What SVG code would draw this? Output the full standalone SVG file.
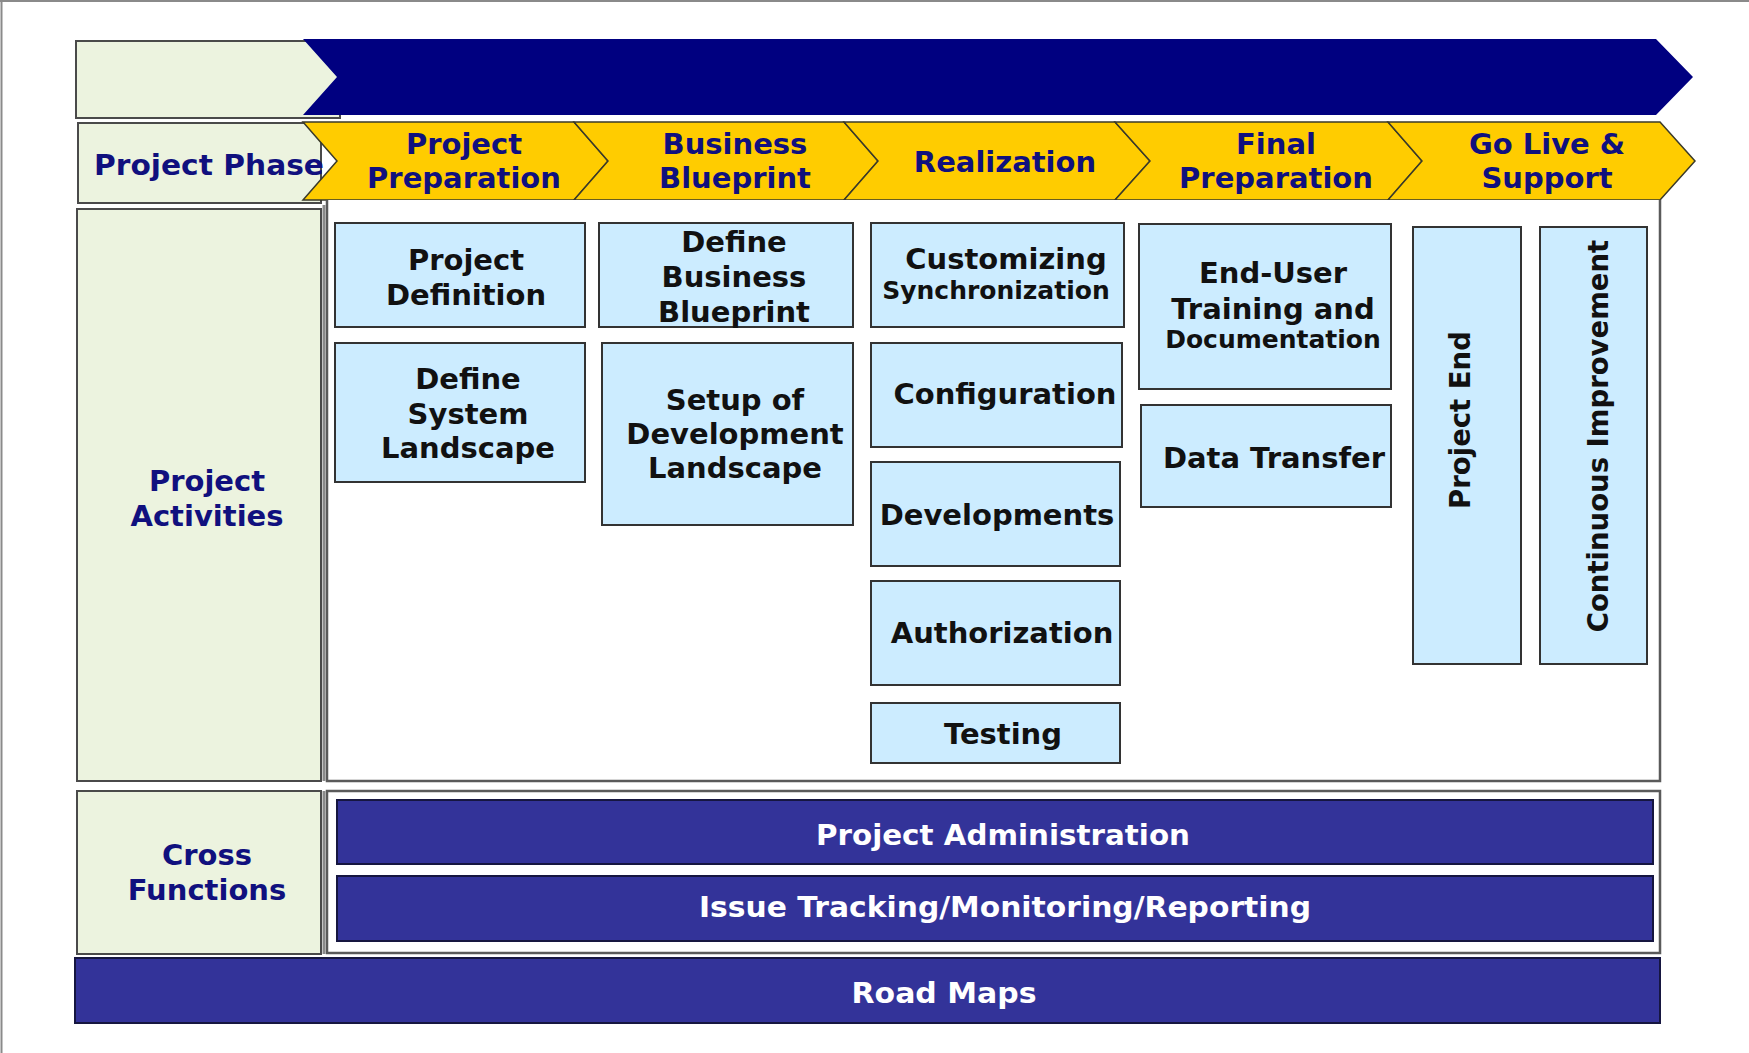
<svg xmlns="http://www.w3.org/2000/svg" width="1749" height="1053" viewBox="0 0 1749 1053">
<style>
  text { font-family: "DejaVu Sans", Verdana, "Liberation Sans", sans-serif; font-weight: bold; }
  .lbl { fill: #ECF3DF; stroke: #4a4a4a; stroke-width: 2; }
  .area { fill: #ffffff; stroke: #5a5a5a; stroke-width: 2.5; }
  .box { fill: #CCECFF; stroke: #333333; stroke-width: 2; }
  .chev { fill: #FFCC00; stroke: #3a3a2a; stroke-width: 1.5; }
  .bar { fill: #333399; stroke: #161640; stroke-width: 2; }
  .nt { fill: #10107e; font-size: 29px; text-anchor: middle; }
  .bt { fill: #111111; font-size: 29px; text-anchor: middle; }
  .st { fill: #111111; font-size: 25px; text-anchor: middle; }
  .vt { fill: #111111; font-size: 27.5px; text-anchor: middle; }
  .wt { fill: #ffffff; font-size: 29px; text-anchor: middle; }
</style>

<!-- page border -->
<g id="page-border">
  <line x1="0" y1="1" x2="1749" y2="1" stroke="#8a8a8a" stroke-width="2"/>
  <line x1="1.5" y1="0" x2="1.5" y2="1053" stroke="#8a8a8a" stroke-width="2"/>
</g>

<!-- top banner -->
<g id="banner">
  <rect class="lbl" x="76" y="41" width="264" height="77" stroke="#222" stroke-width="2.5"/>
  <polygon points="303,39 1656,39 1693,77 1656,115 303,115 337,77" fill="#000080"/>
</g>

<!-- Project Phase row -->
<g id="project-phase-label">
  <rect class="lbl" x="78" y="123" width="243" height="80"/>
  <text class="nt" x="209" y="175" textLength="230" lengthAdjust="spacingAndGlyphs">Project Phase</text>
</g>

<g id="phase-project-preparation">
  <polygon class="chev" points="303,122 574,122 608,161 574,200 303,200 337,161"/>
  <text class="nt" x="464" y="154">Project</text>
  <text class="nt" x="464" y="188">Preparation</text>
</g>
<g id="phase-business-blueprint">
  <polygon class="chev" points="574,122 844,122 878,161 844,200 574,200 608,161"/>
  <text class="nt" x="735" y="154">Business</text>
  <text class="nt" x="735" y="188">Blueprint</text>
</g>
<g id="phase-realization">
  <polygon class="chev" points="844,122 1115,122 1150,161 1115,200 844,200 878,161"/>
  <text class="nt" x="1005" y="172">Realization</text>
</g>
<g id="phase-final-preparation">
  <polygon class="chev" points="1115,122 1388,122 1422,161 1388,200 1115,200 1150,161"/>
  <text class="nt" x="1276" y="154">Final</text>
  <text class="nt" x="1276" y="188">Preparation</text>
</g>
<g id="phase-go-live">
  <polygon class="chev" points="1388,122 1660,122 1695,161 1660,200 1388,200 1422,161"/>
  <text class="nt" x="1547" y="154">Go Live &amp;</text>
  <text class="nt" x="1547" y="188">Support</text>
</g>

<!-- Project Activities -->
<g id="project-activities-label">
  <rect class="lbl" x="77" y="209" width="244" height="572"/>
  <text class="nt" x="207" y="491">Project</text>
  <text class="nt" x="207" y="526">Activities</text>
</g>
<g id="activities-area">
  <path class="area" d="M1660,200 L1660,781 L327,781 L327,200" fill="#fff"/>
  <line x1="324" y1="205" x2="324" y2="781" stroke="#8a8a8a" stroke-width="3"/>
</g>

<g id="project-definition">
  <rect class="box" x="335" y="223" width="250" height="104"/>
  <text class="bt" x="466" y="270">Project</text>
  <text class="bt" x="466" y="305">Definition</text>
</g>
<g id="define-system-landscape">
  <rect class="box" x="335" y="343" width="250" height="139"/>
  <text class="bt" x="468" y="389">Define</text>
  <text class="bt" x="468" y="424">System</text>
  <text class="bt" x="468" y="458">Landscape</text>
</g>
<g id="define-business-blueprint">
  <rect class="box" x="599" y="223" width="254" height="104"/>
  <text class="bt" x="734" y="252">Define</text>
  <text class="bt" x="734" y="287">Business</text>
  <text class="bt" x="734" y="322">Blueprint</text>
</g>
<g id="setup-development-landscape">
  <rect class="box" x="602" y="343" width="251" height="182"/>
  <text class="bt" x="735" y="410">Setup of</text>
  <text class="bt" x="735" y="444">Development</text>
  <text class="bt" x="735" y="478">Landscape</text>
</g>
<g id="customizing-synchronization">
  <rect class="box" x="871" y="223" width="253" height="104"/>
  <text class="bt" x="1006" y="269">Customizing</text>
  <text class="st" x="996" y="299">Synchronization</text>
</g>
<g id="configuration">
  <rect class="box" x="871" y="343" width="251" height="104"/>
  <text class="bt" x="1005" y="404">Configuration</text>
</g>
<g id="developments">
  <rect class="box" x="871" y="462" width="249" height="104"/>
  <text class="bt" x="997" y="525">Developments</text>
</g>
<g id="authorization">
  <rect class="box" x="871" y="581" width="249" height="104"/>
  <text class="bt" x="1002" y="643">Authorization</text>
</g>
<g id="testing">
  <rect class="box" x="871" y="703" width="249" height="60"/>
  <text class="bt" x="1003" y="744">Testing</text>
</g>
<g id="end-user-training">
  <rect class="box" x="1139" y="224" width="252" height="165"/>
  <text class="bt" x="1273" y="283">End-User</text>
  <text class="bt" x="1273" y="319">Training and</text>
  <text class="st" x="1273" y="348">Documentation</text>
</g>
<g id="data-transfer">
  <rect class="box" x="1141" y="405" width="250" height="102"/>
  <text class="bt" x="1274" y="468">Data Transfer</text>
</g>
<g id="project-end">
  <rect class="box" x="1413" y="227" width="108" height="437"/>
  <text class="vt" transform="translate(1470,420) rotate(-90)">Project End</text>
</g>
<g id="continuous-improvement">
  <rect class="box" x="1540" y="227" width="107" height="437"/>
  <text class="vt" transform="translate(1608,436) rotate(-90)">Continuous Improvement</text>
</g>

<!-- Cross Functions -->
<g id="cross-functions-label">
  <rect class="lbl" x="77" y="791" width="244" height="163"/>
  <text class="nt" x="207" y="865">Cross</text>
  <text class="nt" x="207" y="900">Functions</text>
</g>
<g id="cross-area">
  <rect class="area" x="327" y="791" width="1333" height="162"/>
  <line x1="324" y1="791" x2="324" y2="954" stroke="#8a8a8a" stroke-width="3"/>
</g>
<g id="project-administration">
  <rect class="bar" x="337" y="800" width="1316" height="64"/>
  <text class="wt" x="1003" y="845" textLength="374" lengthAdjust="spacingAndGlyphs">Project Administration</text>
</g>
<g id="issue-tracking">
  <rect class="bar" x="337" y="876" width="1316" height="65"/>
  <text class="wt" x="1005" y="917" textLength="612" lengthAdjust="spacingAndGlyphs">Issue Tracking/Monitoring/Reporting</text>
</g>

<!-- Road Maps -->
<g id="road-maps">
  <rect class="bar" x="75" y="958" width="1585" height="65"/>
  <text class="wt" x="944" y="1003" textLength="185" lengthAdjust="spacingAndGlyphs">Road Maps</text>
</g>
</svg>
